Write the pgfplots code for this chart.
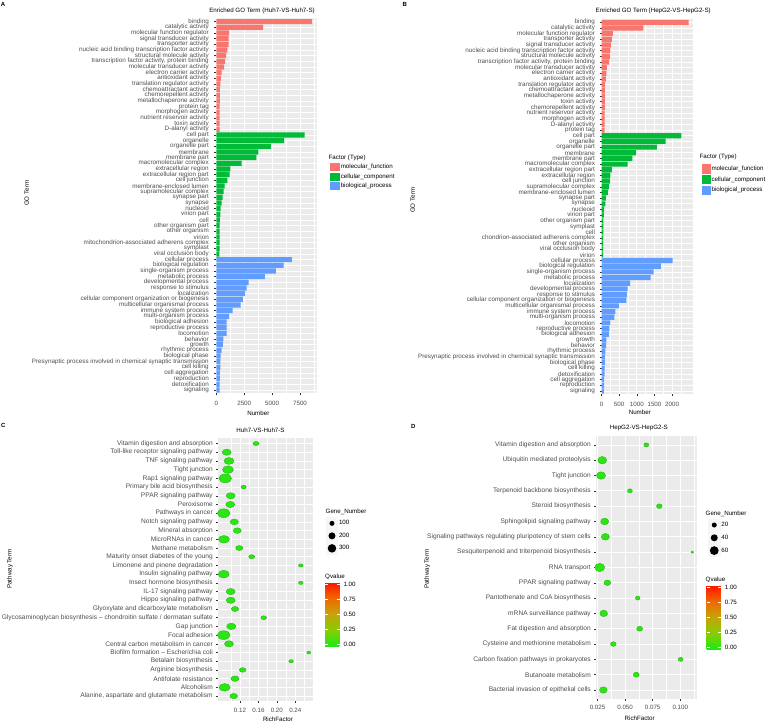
\documentclass[border=0pt]{standalone}
\usepackage{fontspec}
\setmainfont{Liberation Sans}
\usepackage{pgfplots}
\usepackage{pgfplotstable}
\pgfplotsset{compat=1.18}

\definecolor{mf}{HTML}{F8766D}
\definecolor{cc}{HTML}{00BA38}
\definecolor{bp}{HTML}{619CFF}
\definecolor{panel}{HTML}{EBEBEB}
\definecolor{tl}{HTML}{4D4D4D}
\definecolor{tk}{HTML}{333333}
\newcommand\fs[1]{\fontsize{#1}{#1}\selectfont}

\pgfdeclareplotmark{ellC}{\pgfpathellipse{\pgfpointorigin}{\pgfqpoint{1.45\pgfplotmarksize}{0pt}}{\pgfqpoint{0pt}{\pgfplotmarksize}}\pgfusepathqfillstroke}
\pgfdeclareplotmark{ellD}{\pgfpathellipse{\pgfpointorigin}{\pgfqpoint{1.2\pgfplotmarksize}{0pt}}{\pgfqpoint{0pt}{\pgfplotmarksize}}\pgfusepathqfillstroke}

\pgfplotsset{
  gg/.style={
    scale only axis,
    axis background/.style={fill=panel},
    axis line style={draw=none},
    tick align=outside,
    tick pos=left,
    major tick length=2pt,
    minor tick length=0pt,
    tick style={tk, line width=0.45pt},
    major grid style={white, line width=0.75pt},
    minor grid style={white, line width=0.35pt},
    xmajorgrids, ymajorgrids, xminorgrids,
    y dir=reverse,
    ticklabel style={tl},
    /pgf/number format/assume math mode=true,
  },
  gobar/.style={xbar, bar width=0.9, bar shift=0pt, draw=none, forget plot},
  sq/.style={legend image code/.code={\path[draw=none,fill=none] (0pt,-4.75pt) rectangle (10pt,4.75pt); \fill[#1,draw=none] (0pt,-4pt) rectangle (10pt,4pt);}},
  sqb/.style={legend image code/.code={\path[draw=none,fill=none] (0pt,-5.35pt) rectangle (9pt,5.35pt); \fill[#1,draw=none] (0pt,-4.75pt) rectangle (9pt,4.75pt);}},
  dotkey/.style 2 args={legend image code/.code={\fill[gray!7,draw=none] (0pt,-#2) rectangle (12.5pt,#2); \fill[black,draw=none] (6.25pt,0pt) circle[radius=#1];}},
  gleg/.style={legend cell align=left, legend style={draw=none, fill=none, inner sep=0pt, outer sep=0pt, font=\fs{6.2}, row sep=0pt, column sep=0pt, nodes={inner sep=0.8pt}}},
}

\pgfplotstableread{
x y n q
0.1548 1 80 0.01
0.0911 2 180 0.01
0.0961 3 223 0.01
0.0939 4 270 0.01
0.0880 5 360 0.01
0.1280 6 63 0.01
0.0998 7 180 0.01
0.0989 8 180 0.01
0.0846 9 360 0.01
0.1076 10 153 0.01
0.1141 11 143 0.01
0.0852 12 270 0.01
0.1185 13 119 0.01
0.1454 14 80 0.01
0.2520 15 49 0.01
0.0846 16 270 0.01
0.2520 17 49 0.01
0.0998 18 180 0.01
0.0998 19 180 0.01
0.1091 20 119 0.01
0.1715 21 72 0.01
0.1011 22 193 0.01
0.0846 23 360 0.01
0.0961 24 180 0.01
0.2693 25 36 0.01
0.2309 26 49 0.01
0.1258 27 100 0.01
0.1091 28 143 0.01
0.0867 29 270 0.01
0.1063 30 132 0.01
}\dataC

\pgfplotstableread{
x y n q
0.0692 1 13 0.01
0.0293 2 43 0.01
0.0282 3 43 0.01
0.0544 4 13 0.01
0.0810 5 17 0.01
0.0315 6 34 0.01
0.0321 7 34 0.01
0.1109 8 4 0.01
0.0270 9 53 0.01
0.0339 10 24 0.01
0.0614 11 12 0.01
0.0306 12 32 0.01
0.0632 13 19 0.01
0.0393 14 17 0.01
0.1004 15 13 0.01
0.0601 16 19 0.01
0.0303 17 32 0.01
}\dataD

\begin{document}
\begin{tikzpicture}
\path[use as bounding box] (0pt,0pt) rectangle (768pt,724pt);

% ---------------- Panel A ----------------
\begin{axis}[gg, gleg,
  at={(216.3pt,705.7pt)}, anchor=north west, width=100.7pt, height=375.1pt,
  xmin=0, xmax=9023, ymin=0.4, ymax=66.6,
  xtick={0,2500,5000,7500}, xticklabels={0,2500,5000,7500},
  minor xtick={1250,3750,6250,8750},
  ytick={1,...,66},
  yticklabels={{binding},{catalytic activity},{molecular function regulator},{signal transducer activity},{transporter activity},{nucleic acid binding transcription factor activity},{structural molecule activity},{transcription factor activity, protein binding},{molecular transducer activity},{electron carrier activity},{antioxidant activity},{translation regulator activity},{chemoattractant activity},{chemorepellent activity},{metallochaperone activity},{protein tag},{morphogen activity},{nutrient reservoir activity},{toxin activity},{D-alanyl activity},
  {cell part},{organelle},{organelle part},{membrane},{membrane part},{macromolecular complex},{extracellular region},{extracellular region part},{cell junction},{membrane-enclosed lumen},{supramolecular complex},{synapse part},{synapse},{nucleoid},{virion part},{cell},{other organism part},{other organism},{virion},{mitochondrion-associated adherens complex},{symplast},{viral occlusion body},
  {cellular process},{biological regulation},{single-organism process},{metabolic process},{developmental process},{response to stimulus},{localization},{cellular component organization or biogenesis},{multicellular organismal process},{immune system process},{multi-organism process},{biological adhesion},{reproductive process},{locomotion},{behavior},{growth},{rhythmic process},{biological phase},{Presynaptic process involved in chemical synaptic transmission},{cell killing},{cell aggregation},{reproduction},{detoxification},{signaling}},
  yticklabel style={font=\fs{6.3}, xshift=-2pt},
  xticklabel style={font=\fs{6.2}, yshift=-2.5pt},
  legend style={at={(axis description cs:1.129,0.6154)}, anchor=north west},
]
\addplot[gobar, fill=mf] coordinates {(8575,1) (4185,2) (1140,3) (1110,4) (1100,5) (990,6) (870,7) (780,8) (690,9) (480,10) (420,11) (360,12) (330,13) (330,14) (330,15) (300,16) (300,17) (300,18) (300,19) (300,20)};
\addplot[gobar, fill=cc] coordinates {(7920,21) (6070,22) (4900,23) (3765,24) (3585,25) (2275,26) (1255,27) (1195,28) (990,29) (750,30) (660,31) (570,32) (480,33) (390,34) (360,35) (330,36) (300,37) (300,38) (300,39) (300,40) (300,41) (270,42)};
\addplot[gobar, fill=bp] coordinates {(6780,43) (6030,44) (5345,45) (4360,46) (2900,47) (2720,48) (2570,49) (2390,50) (2180,51) (1465,52) (1140,53) (930,54) (930,55) (930,56) (630,57) (600,58) (480,59) (390,60) (360,61) (360,62) (330,63) (330,64) (300,65) (300,66)};
\addlegendimage{sq=mf}\addlegendentry{molecular\_function}
\addlegendimage{sq=cc}\addlegendentry{cellular\_component}
\addlegendimage{sq=bp}\addlegendentry{biological\_process}
\end{axis}

% ---------------- Panel B ----------------
\begin{axis}[gg, gleg,
  at={(601.5pt,705.1pt)}, anchor=north west, width=91.8pt, height=375.5pt,
  xmin=0, xmax=2600, ymin=0.4, ymax=66.6,
  xtick={0,500,1000,1500,2000}, xticklabels={0,500,1000,1500,2000},
  minor xtick={250,750,1250,1750,2250},
  ytick={1,...,66},
  yticklabels={{binding},{catalytic activity},{molecular function regulator},{transporter activity},{signal transducer activity},{nucleic acid binding transcription factor activity},{structural molecule activity},{transcription factor activity, protein binding},{molecular transducer activity},{electron carrier activity},{antioxidant activity},{translation regulator activity},{chemoattractant activity},{metallochaperone activity},{toxin activity},{chemorepellent activity},{nutrient reservoir activity},{morphogen activity},{D-alanyl activity},{protein tag},
  {cell part},{organelle},{organelle part},{membrane},{membrane part},{macromolecular complex},{extracellular region part},{extracellular region},{cell junction},{supramolecular complex},{membrane-enclosed lumen},{synapse part},{synapse},{nucleoid},{virion part},{other organism part},{symplast},{cell},{chondrion-associated adherens complex},{other organism},{viral occlusion body},{virion},
  {cellular process},{biological regulation},{single-organism process},{metabolic process},{localization},{developmental process},{response to stimulus},{cellular component organization or biogenesis},{multicellular organismal process},{immune system process},{multi-organism process},{locomotion},{reproductive process},{biological adhesion},{growth},{behavior},{rhythmic process},{Presynaptic process involved in chemical synaptic transmission},{biological phase},{cell killing},{detoxification},{cell aggregation},{reproduction},{signaling}},
  yticklabel style={font=\fs{6.3}, xshift=-1pt},
  xticklabel style={font=\fs{6.2}, yshift=-2pt},
  legend style={at={(axis description cs:1.0915,0.6144)}, anchor=north west},
]
\addplot[gobar, fill=mf] coordinates {(2466,1) (1186,2) (319,3) (291,4) (263,5) (254,6) (245,7) (216,8) (150,9) (140,10) (122,11) (93,12) (93,13) (93,14) (93,15) (93,16) (85,17) (85,18) (85,19) (85,20)};
\addplot[gobar, fill=cc] coordinates {(2260,21) (1816,22) (1571,23) (978,24) (875,25) (743,26) (291,27) (254,28) (245,29) (207,30) (178,31) (122,32) (112,33) (75,34) (65,35) (56,36) (56,37) (56,38) (47,39) (47,40) (47,41) (47,42)};
\addplot[gobar, fill=bp] coordinates {(2014,43) (1685,44) (1478,45) (1393,46) (809,47) (743,48) (715,49) (706,50) (498,51) (395,52) (367,53) (254,54) (226,55) (207,56) (141,57) (131,58) (112,59) (93,60) (93,61) (85,62) (85,63) (75,64) (75,65) (65,66)};
\addlegendimage{sqb=mf}\addlegendentry{molecular\_function}
\addlegendimage{sqb=cc}\addlegendentry{cellular\_component}
\addlegendimage{sqb=bp}\addlegendentry{biological\_process}
\end{axis}

% ---------------- Panel C ----------------
\begin{axis}[gg, gleg, clip=false,
  at={(218.3pt,285.7pt)}, anchor=north west, width=94.4pt, height=263pt,
  xmin=0.0729, xmax=0.2778, ymin=0.4, ymax=30.6,
  xtick={0.12,0.16,0.20,0.24}, xticklabels={0.12,0.16,0.20,0.24},
  minor xtick={0.10,0.14,0.18,0.22,0.26},
  ytick={1,...,30},
  yticklabels={{Vitamin digestion and absorption},{Toll-like receptor signaling pathway},{TNF signaling pathway},{Tight junction},{Rap1 signaling pathway},{Primary bile acid biosynthesis},{PPAR signaling pathway},{Peroxisome},{Pathways in cancer},{Notch signaling pathway},{Mineral absorption},{MicroRNAs in cancer},{Methane metabolism},{Maturity onset diabetes of the young},{Limonene and pinene degradation},{Insulin signaling pathway},{Insect hormone biosynthesis},{IL-17 signaling pathway},{Hippo signaling pathway},{Glyoxylate and dicarboxylate metabolism},{Glycosaminoglycan biosynthesis – chondroitin sulfate / dermatan sulfate},{Gap junction},{Focal adhesion},{Central carbon metabolism in cancer},{Biofilm formation – Escherichia coli},{Betalain biosynthesis},{Arginine biosynthesis},{Antifolate resistance},{Alcoholism},{Alanine, aspartate and glutamate metabolism}},
  yticklabel style={font=\fs{6.6}},
  xticklabel style={font=\fs{6.2}, yshift=-1.5pt},
  colormap={qv}{rgb255=(25,235,25) rgb255=(135,205,0) rgb255=(195,165,10) rgb255=(240,105,0) rgb255=(255,20,0)},
  point meta min=-0.033, point meta max=1.038,
  colorbar,
  colorbar style={at={(parent axis.north east)}, anchor=north west, xshift=3.8pt, yshift=-143.7pt,
    width=15pt, height=64.7pt, scale only axis,
    ytick={0,0.25,0.5,0.75,1}, yticklabels={0.00,0.25,0.50,0.75,1.00},
    yticklabel style={font=\fs{6.2}, black},
    tick align=inside, major tick length=3pt, ytick style={white, line width=0.5pt},
    axis line style={draw=none}, ytick pos=both, yticklabel pos=right},
  legend style={at={(axis description cs:1.138,0.7004)}, anchor=north west},
]
\addplot[scatter, only marks, mark=ellC, point meta=\thisrow{q},
  visualization depends on={0.231*sqrt(\thisrow{n}) \as \rad},
  scatter/@pre marker code/.append style={/tikz/mark size=\rad pt},
  forget plot] table[x=x, y=y] {\dataC};
\addlegendimage{dotkey={2.5pt}{6.25pt}}\addlegendentry{100}
\addlegendimage{dotkey={3.5pt}{6.25pt}}\addlegendentry{200}
\addlegendimage{dotkey={4.25pt}{6.25pt}}\addlegendentry{300}
\end{axis}

% ---------------- Panel D ----------------
\begin{axis}[gg, gleg, clip=false,
  at={(596.3pt,288.3pt)}, anchor=north west, width=100.4pt, height=263.5pt,
  xmin=0.0239, xmax=0.1149, ymin=0.4, ymax=17.6,
  xtick={0.025,0.05,0.075,0.1}, xticklabels={0.025,0.050,0.075,0.100},
  minor xtick={0.0375,0.0625,0.0875,0.1125},
  ytick={1,...,17},
  yticklabels={{Vitamin digestion and absorption},{Ubiquitin mediated proteolysis},{Tight junction},{Terpenoid backbone biosynthesis},{Steroid biosynthesis},{Sphingolipid signaling pathway},{Signaling pathways regulating pluripotency of stem cells},{Sesquiterpenoid and triterpenoid biosynthesis},{RNA transport},{PPAR signaling pathway},{Pantothenate and CoA biosynthesis},{mRNA surveillance pathway},{Fat digestion and absorption},{Cysteine and methionine metabolism},{Carbon fixation pathways in prokaryotes},{Butanoate metabolism},{Bacterial invasion of epithelial cells}},
  yticklabel style={font=\fs{6.6}},
  xticklabel style={font=\fs{6.2}},
  colormap={qv}{rgb255=(25,235,25) rgb255=(135,205,0) rgb255=(195,165,10) rgb255=(240,105,0) rgb255=(255,20,0)},
  point meta min=-0.04, point meta max=1.04,
  colorbar,
  colorbar style={at={(parent axis.north east)}, anchor=north west, xshift=1.5pt, yshift=-149.6pt,
    width=14.6pt, height=64.4pt, scale only axis,
    ytick={0,0.25,0.5,0.75,1}, yticklabels={0.00,0.25,0.50,0.75,1.00},
    yticklabel style={font=\fs{6.2}, black},
    tick align=inside, major tick length=3pt, ytick style={white, line width=0.5pt},
    axis line style={draw=none}, ytick pos=both, yticklabel pos=right},
  legend style={at={(axis description cs:1.1126,0.6854)}, anchor=north west},
]
\addplot[scatter, only marks, mark=ellD, point meta=\thisrow{q},
  visualization depends on={0.57*sqrt(\thisrow{n}) \as \rad},
  scatter/@pre marker code/.append style={/tikz/mark size=\rad pt},
  forget plot] table[x=x, y=y] {\dataD};
\addlegendimage{dotkey={2.5pt}{6.4pt}}\addlegendentry{20}
\addlegendimage{dotkey={3.5pt}{6.4pt}}\addlegendentry{40}
\addlegendimage{dotkey={4.4pt}{6.4pt}}\addlegendentry{60}
\end{axis}

% ---------------- Texts ----------------
\begin{scope}[every node/.style={inner sep=0pt, font=\fs{6.2}}]
\node[font=\fs{6}\bfseries] at (3pt,720pt) {A};
\node[font=\fs{6}\bfseries] at (404.7pt,720pt) {B};
\node[font=\fs{6}\bfseries] at (3.3pt,299pt) {C};
\node[font=\fs{6}\bfseries] at (413.3pt,297.3pt) {D};
\node at (262pt,713.3pt) {Enriched GO Term (Huh7-VS-Huh7-S)};
\node at (653.2pt,713.3pt) {Enriched GO Term (HepG2-VS-HepG2-S)};
\node at (258.3pt,310.7pt) {Number};
\node at (639.8pt,311.3pt) {Number};
\node[rotate=90] at (26.7pt,530.7pt) {GO Term};
\node[rotate=90] at (412.7pt,523.7pt) {GO Term};
\node[anchor=west] at (328.5pt,566.3pt) {Factor (Type)};
\node[anchor=west] at (699.5pt,566.7pt) {Factor (Type)};
\node at (260.5pt,293.3pt) {Huh7-VS-Huh7-S};
\node at (638.8pt,295.7pt) {HepG2-VS-HepG2-S};
\node[rotate=90] at (10pt,155pt) {Pathway Term};
\node[rotate=90] at (427.3pt,155pt) {Pathway Term};
\node at (278pt,4.7pt) {RichFactor};
\node at (639.7pt,5.7pt) {RichFactor};
\node[anchor=west] at (325.5pt,212.3pt) {Gene\_Number};
\node[anchor=west] at (705.5pt,210pt) {Gene\_Number};
\node[anchor=west] at (325pt,147.3pt) {Qvalue};
\node[anchor=west] at (705.5pt,144pt) {Qvalue};
\end{scope}
\end{tikzpicture}
\end{document}
